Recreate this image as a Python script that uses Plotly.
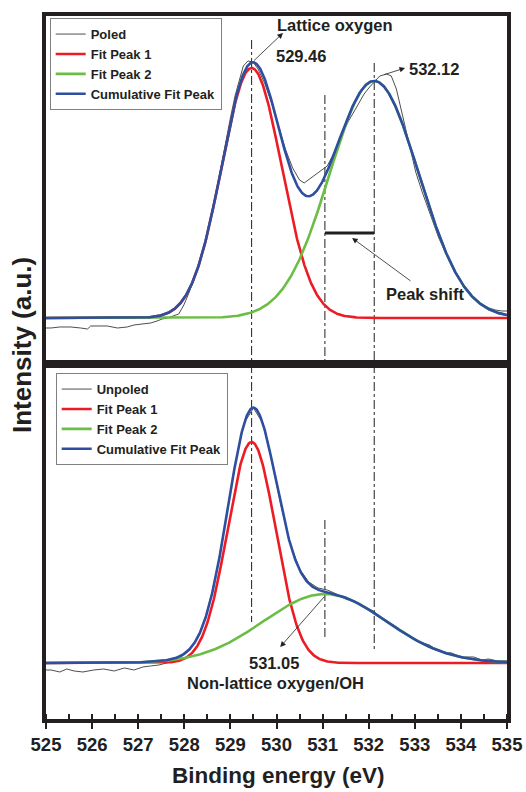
import numpy as np
import plotly.graph_objects as go

# ---- O 1s spectra (binding energy in eV, intensity in a.u.) ----
energy_poled = [525.00, 525.11, 525.30, 525.54, 525.75, 525.90, 525.97, 526.15, 526.33, 526.55,
                526.76, 526.91, 527.05, 527.27, 527.41, 527.52, 527.63, 527.77, 527.88, 527.99,
                528.10, 528.20, 528.30, 528.40, 528.50, 528.60, 528.70, 528.80, 528.90, 529.00,
                529.10, 529.20, 529.28, 529.38, 529.49, 529.60, 529.75, 529.90, 530.05, 530.20,
                530.35, 530.50, 530.60, 530.72, 530.85, 531.00, 531.10, 531.26, 531.40, 531.55,
                531.74, 531.90, 532.02, 532.15, 532.24, 532.39, 532.49, 532.60, 532.73, 532.88,
                533.02, 533.16, 533.38, 533.52, 533.68, 533.90, 534.11, 534.25, 534.40, 534.61,
                534.75, 534.89, 535.00]
intensity_poled = [36, 36, 37, 37, 36, 35, 38, 38, 38, 36,
                   37, 39, 40, 41, 43, 45, 46, 48, 50, 59,
                   71, 84, 98, 113, 131, 151, 174, 198, 223, 246,
                   268, 286, 298, 303, 302, 295, 280, 260, 238, 214,
                   196, 184, 181, 185, 189, 194, 198, 212, 226, 242,
                   257, 270, 277, 284, 288, 290, 288, 275, 249, 218,
                   192, 172, 144, 126, 110, 91, 75, 67, 61, 56,
                   54, 53, 53]

energy_unpoled = [525.00, 525.11, 525.30, 525.45, 525.61, 525.80, 526.04, 526.25, 526.48, 526.70,
                  526.91, 527.10, 527.27, 527.45, 527.70, 527.90, 528.10, 528.30, 528.50, 528.70,
                  528.90, 529.10, 529.30, 529.50, 529.70, 529.90, 530.10, 530.30, 530.50, 530.70,
                  530.90, 531.10, 531.30, 531.50, 531.70, 531.90, 532.10, 532.30, 532.50, 532.70,
                  532.90, 533.10, 533.32, 533.45, 533.60, 533.80, 534.00, 534.28, 534.45, 534.60,
                  534.80, 535.00]
intensity_unpoled = [49, 49, 47, 50, 48, 47, 49, 50, 48, 51,
                     49, 52, 53, 54, 57, 61, 68, 82, 107, 147,
                     199, 254, 296, 311, 296, 258, 213, 175, 150, 137,
                     131, 129, 125, 120, 118, 112, 108, 100, 95, 88,
                     83, 77, 74, 70, 67, 66, 62, 62, 59, 60,
                     58, 58]

# ---- Gaussian fit parameters: (centre eV, height, sigma eV) ----
poled_baseline = 46
poled_peak1 = (529.46, 250, 0.65)
poled_peak2 = (532.12, 237, 0.97)
unpoled_baseline = 56
unpoled_peak1 = (529.46, 221, 0.52)
unpoled_peak2 = (531.05, 69, 1.33)

# marked peak positions
lattice_pos = 529.46
shifted_pos = 532.12
nonlattice_pos = 531.05

x_range = [525, 535]
x_ticks = [525, 526, 527, 528, 529, 530, 531, 532, 533, 534, 535]

energy_fit = np.linspace(x_range[0], x_range[1], 801)


def gauss(x, peak):
    c, h, s = peak
    return h * np.exp(-(x - c) ** 2 / (2 * s * s))


p_fit1 = poled_baseline + gauss(energy_fit, poled_peak1)
p_fit2 = poled_baseline + gauss(energy_fit, poled_peak2)
p_cum = poled_baseline + gauss(energy_fit, poled_peak1) + gauss(energy_fit, poled_peak2)
u_fit1 = unpoled_baseline + gauss(energy_fit, unpoled_peak1)
u_fit2 = unpoled_baseline + gauss(energy_fit, unpoled_peak2)
u_cum = unpoled_baseline + gauss(energy_fit, unpoled_peak1) + gauss(energy_fit, unpoled_peak2)

INK = "#231F20"
RED = "#ED1C24"
GREEN = "#6CBD45"
BLUE = "#2E4E9F"
FONT = "Liberation Sans, Arial, sans-serif"
FW = 2.6

fig = go.Figure()

# top panel (poled)
fig.add_trace(go.Scatter(x=energy_poled, y=intensity_poled, mode="lines", name="Poled",
                         line=dict(color="#3a3a3a", width=0.9), xaxis="x2", yaxis="y2", legend="legend"))
fig.add_trace(go.Scatter(x=energy_fit, y=p_fit1, mode="lines", name="Fit Peak 1",
                         line=dict(color=RED, width=FW), xaxis="x2", yaxis="y2", legend="legend"))
fig.add_trace(go.Scatter(x=energy_fit, y=p_fit2, mode="lines", name="Fit Peak 2",
                         line=dict(color=GREEN, width=FW), xaxis="x2", yaxis="y2", legend="legend"))
fig.add_trace(go.Scatter(x=energy_fit, y=p_cum, mode="lines", name="Cumulative Fit Peak",
                         line=dict(color=BLUE, width=FW), xaxis="x2", yaxis="y2", legend="legend"))

# bottom panel (unpoled)
fig.add_trace(go.Scatter(x=energy_unpoled, y=intensity_unpoled, mode="lines", name="Unpoled",
                         line=dict(color="#3a3a3a", width=0.9), xaxis="x", yaxis="y", legend="legend2"))
fig.add_trace(go.Scatter(x=energy_fit, y=u_fit1, mode="lines", name="Fit Peak 1",
                         line=dict(color=RED, width=FW), xaxis="x", yaxis="y", legend="legend2"))
fig.add_trace(go.Scatter(x=energy_fit, y=u_fit2, mode="lines", name="Fit Peak 2",
                         line=dict(color=GREEN, width=FW), xaxis="x", yaxis="y", legend="legend2"))
fig.add_trace(go.Scatter(x=energy_fit, y=u_cum, mode="lines", name="Cumulative Fit Peak",
                         line=dict(color=BLUE, width=FW), xaxis="x", yaxis="y", legend="legend2"))

split = 0.505
top_max = 348
bot_max = 355

frame = dict(showline=True, linewidth=4, linecolor=INK, mirror=True,
             showgrid=False, zeroline=False, automargin=False)

legend_style = dict(bgcolor="white", bordercolor="#808080", borderwidth=1,
                    font=dict(family=FONT, size=13, color=INK, weight="bold"),
                    xanchor="left", yanchor="top", tracegroupgap=0, itemwidth=30)

fig.update_layout(
    width=526, height=792,
    margin=dict(l=46, r=19, t=16, b=73, autoexpand=False),
    paper_bgcolor="white", plot_bgcolor="white",
    font=dict(family=FONT, color=INK),
    xaxis=dict(domain=[0, 1], anchor="y", range=x_range, tickvals=x_ticks,
               ticks="outside", ticklen=6, tickwidth=2, tickcolor=INK,
               tickfont=dict(family=FONT, size=18.5, color=INK, weight="bold"),
               minor=dict(dtick=0.5, tick0=525, ticks="inside", ticklen=5, tickwidth=2, tickcolor=INK),
               **frame),
    yaxis=dict(domain=[0, split], anchor="x", range=[0, bot_max], showticklabels=False, ticks="", **frame),
    xaxis2=dict(domain=[0, 1], anchor="y2", matches="x", range=x_range,
                showticklabels=False, ticks="", **frame),
    yaxis2=dict(domain=[split, 1], anchor="x2", range=[0, top_max], showticklabels=False, ticks="", **frame),
    legend=dict(x=0.008, y=0.997, **legend_style),
    legend2=dict(x=0.021, y=0.492, **legend_style),
    showlegend=True,
)

# dash-dot guide lines at the peak positions
dd = dict(color=INK, width=1, dash="dashdot")
guides = [
    ("x2", "y2", lattice_pos, 324, 0),
    ("x2", "y2", nonlattice_pos, 269, 0),
    ("x2", "y2", shifted_pos, 301, 0),
    ("x", "y", lattice_pos, bot_max, 97),
    ("x", "y", nonlattice_pos, 199, 82),
    ("x", "y", shifted_pos, bot_max, 67),
]
for xr, yr, xv, y0, y1 in guides:
    fig.add_shape(type="line", xref=xr, yref=yr, x0=xv, x1=xv, y0=y0, y1=y1, line=dd, layer="below")

# peak-shift bar between the two O 1s positions
fig.add_shape(type="line", xref="x2", yref="y2", x0=nonlattice_pos, x1=shifted_pos, y0=131, y1=131,
              line=dict(color=INK, width=3))


def text(xr, yr, x, y, s, size=16.5):
    fig.add_annotation(xref=xr, yref=yr, x=x, y=y, text=s, showarrow=False,
                       font=dict(family=FONT, size=size, color=INK, weight="bold"),
                       xanchor="center", yanchor="middle")


def arrow(xr, yr, x_tail, y_tail, x_tip, y_tip):
    fig.add_annotation(xref=xr, yref=yr, axref=xr, ayref=yr, x=x_tip, y=y_tip, ax=x_tail, ay=y_tail,
                       text="", showarrow=True, arrowhead=2, arrowsize=1.4, arrowwidth=0.8,
                       arrowcolor=INK, standoff=0, startstandoff=0)


text("x2", "y2", 531.27, 339, "Lattice oxygen")
text("x2", "y2", 530.53, 308, f"{lattice_pos:.2f}")
text("x2", "y2", 533.42, 295, f"{shifted_pos:.2f}")
text("x2", "y2", 533.22, 70, "Peak shift")
text("x", "y", 529.95, 56, f"{nonlattice_pos:.2f}")
text("x", "y", 529.97, 36, "Non-lattice oxygen/OH")

arrow("x2", "y2", 529.48, 302, 530.14, 331)
arrow("x2", "y2", 532.31, 289, 532.79, 296)
arrow("x2", "y2", 532.94, 82, 531.64, 126)
arrow("x", "y", 531.07, 124, 530.08, 72)

# shared axis titles
fig.add_annotation(xref="paper", yref="paper", x=0.505, y=-0.0797, text="Binding energy (eV)",
                   showarrow=False, xanchor="center", yanchor="middle",
                   font=dict(family=FONT, size=22.5, color=INK, weight="bold"))
fig.add_annotation(xref="paper", yref="paper", x=-0.052, y=0.532, text="Intensity (a.u.)",
                   showarrow=False, xanchor="center", yanchor="middle", textangle=-90,
                   font=dict(family=FONT, size=26, color=INK, weight="bold"))

fig.write_html("out.html")
